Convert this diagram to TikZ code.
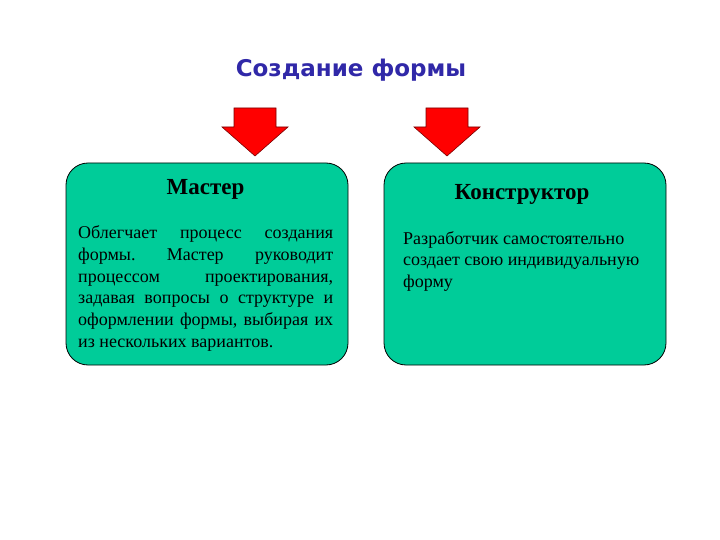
\documentclass[tikz,border=0pt]{standalone}
\usepackage{fontspec}
\setmainfont{Liberation Serif}
\newfontfamily\titlefont{DejaVu Sans}
\definecolor{boxfill}{RGB}{0,204,153}
\definecolor{titleblue}{RGB}{48,40,168}
\definecolor{arrowred}{RGB}{255,0,0}
\definecolor{arrowedge}{RGB}{120,0,0}
\frenchspacing
\begin{document}
\begin{tikzpicture}[x=1pt,y=-1pt,
  panel/.style={draw=black,line width=0.8pt,fill=boxfill,rounded corners=22pt},
  bigarrow/.style={fill=arrowred,draw=arrowedge,line width=0.6pt,line join=miter},
  head/.style={font=\fontsize{23}{27}\selectfont\bfseries,inner sep=0pt,anchor=base},
  bodyline/.style={font=\fontsize{18}{21.6}\selectfont\frenchspacing,inner sep=0pt,anchor=base west}]
\useasboundingbox (0,0) rectangle (720,540);
\node[font=\titlefont\fontsize{23}{27}\selectfont\bfseries,text=titleblue,inner sep=0pt,anchor=base] (title) at (351,77) {Создание формы};
% arrows
\draw[bigarrow] (234,108) -- (276,108) -- (276,127) -- (288,127) -- (255,156) -- (222,127) -- (234,127) -- cycle;
\draw[bigarrow] (426,108) -- (468,108) -- (468,127) -- (480,127) -- (447,156) -- (414,127) -- (426,127) -- cycle;
% panels
\draw[panel] (66,163) rectangle (348,365);
\draw[panel] (384,163) rectangle (666,365);
\node[head] (h1) at (205.5,195) {Мастер};
\node[head] (h2) at (522,200) {Конструктор};
\node[bodyline] (l1) at (78,239) {\makebox[255pt][s]{Облегчает процесс создания}};
\node[bodyline] (l2) at (78,260.6) {\makebox[255pt][s]{формы. Мастер руководит}};
\node[bodyline] (l3) at (78,282.2) {\makebox[255pt][s]{процессом проектирования,}};
\node[bodyline] (l4) at (78,303.8) {\makebox[255pt][s]{задавая вопросы о структуре и}};
\node[bodyline] (l5) at (78,325.4) {\makebox[255pt][s]{оформлении формы, выбирая их}};
\node[bodyline] (l6) at (78,347) {из нескольких вариантов.};
\node[bodyline] (r1) at (403,244) {Разработчик самостоятельно};
\node[bodyline] (r2) at (403,265.6) {создает свою индивидуальную};
\node[bodyline] (r3) at (403,287.2) {форму};
\end{tikzpicture}
\end{document}
